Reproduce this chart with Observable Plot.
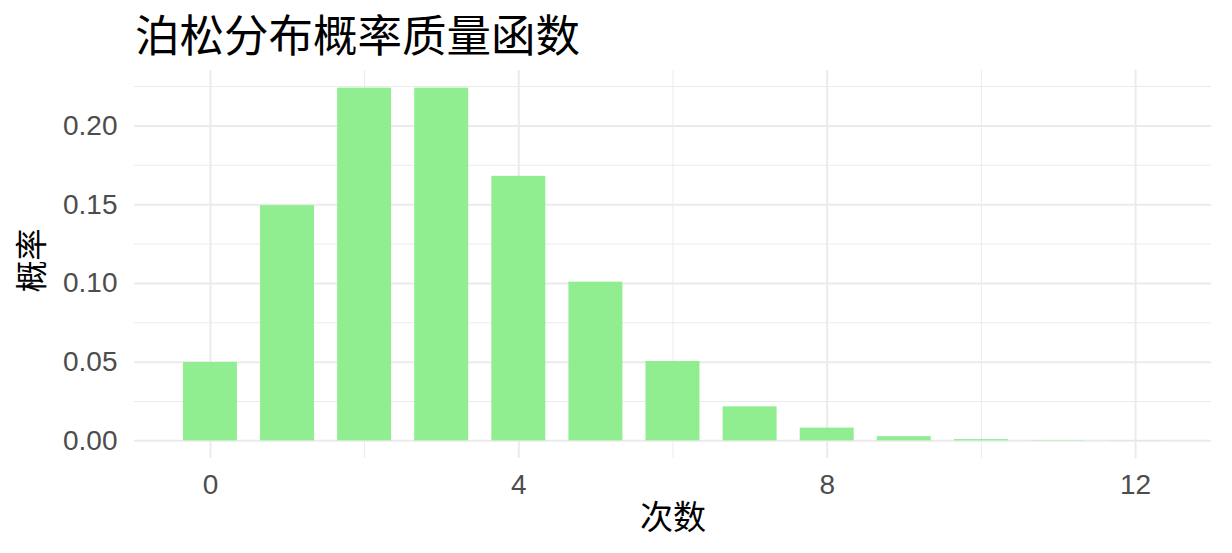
<!DOCTYPE html>
<html>
<head>
<meta charset="utf-8">
<script src="https://cdn.jsdelivr.net/npm/d3@7"></script>
<script src="https://cdn.jsdelivr.net/npm/@observablehq/plot@0.6"></script>
<style>
  html, body { margin: 0; padding: 0; background: #ffffff; }
  #wrap { position: relative; width: 1232px; height: 553px; overflow: hidden; }
  #title { position: absolute; left: 135px; top: 0px; font-family: "Noto Sans CJK SC", sans-serif; font-size: 44.5px; line-height: normal; color: #000; white-space: nowrap; }
  #chart { position: absolute; left: 0; top: 60px; }
</style>
</head>
<body>
<div id="wrap">
  <div id="title">泊松分布概率质量函数</div>
  <div id="chart"></div>
</div>
<script>
// Data (Poisson PMF values)
const counts = [0, 1, 2, 3, 4, 5, 6, 7, 8, 9, 10, 11, 12];
const probs = [0.0498, 0.1494, 0.2240, 0.2240, 0.1680, 0.1008, 0.0504, 0.0216, 0.0081, 0.0027, 0.0008, 0.0002, 0.0001];
const xMajorTicks = [0, 4, 8, 12];
const xMinorTicks = [2, 6, 10];
const yMajorTicks = [0, 0.05, 0.10, 0.15, 0.20];
const yMinorTicks = [0.025, 0.075, 0.125, 0.175, 0.225];
const xTitle = "次数";
const yTitle = "概率";

const data = counts.map((k, i) => ({k, p: probs[i]}));
const halfWidth = 0.35;

const chart = Plot.plot({
  width: 1232,
  height: 493,
  marginTop: 10,
  marginBottom: 95,
  marginLeft: 134,
  marginRight: 21,
  style: {background: "transparent", fontFamily: "'Liberation Sans', Arial, sans-serif"},
  x: {domain: [-0.985, 12.985]},
  y: {domain: [-0.0112, 0.2352]},
  marks: [
    Plot.gridX(xMinorTicks, {stroke: "#ebebeb", strokeOpacity: 1, strokeWidth: 1}),
    Plot.gridY(yMinorTicks, {stroke: "#ebebeb", strokeOpacity: 1, strokeWidth: 1}),
    Plot.gridX(xMajorTicks, {stroke: "#ebebeb", strokeOpacity: 1, strokeWidth: 2}),
    Plot.gridY(yMajorTicks, {stroke: "#ebebeb", strokeOpacity: 1, strokeWidth: 2}),
    Plot.rectY(data, {x1: d => d.k - halfWidth, x2: d => d.k + halfWidth, y1: 0, y2: "p", fill: "#90EE90"}),
    Plot.axisX(xMajorTicks, {tickSize: 0, tickPadding: 16, fontSize: 28, color: "#4d4d4d", label: null, tickFormat: d => String(d)}),
    Plot.axisY(yMajorTicks, {tickSize: 0, tickPadding: 17, fontSize: 28, color: "#4d4d4d", label: null, tickFormat: d3.format(".2f")}),
    Plot.text([xTitle], {frameAnchor: "bottom", dy: 70, fontSize: 33, fill: "#000", fontFamily: "'Noto Sans CJK SC', sans-serif"}),
    Plot.text([yTitle], {frameAnchor: "left", dx: -102, dy: 28, rotate: -90, fontSize: 32, fill: "#000", fontFamily: "'Noto Sans CJK SC', sans-serif"})
  ]
});
document.getElementById("chart").appendChild(chart);
</script>
</body>
</html>
